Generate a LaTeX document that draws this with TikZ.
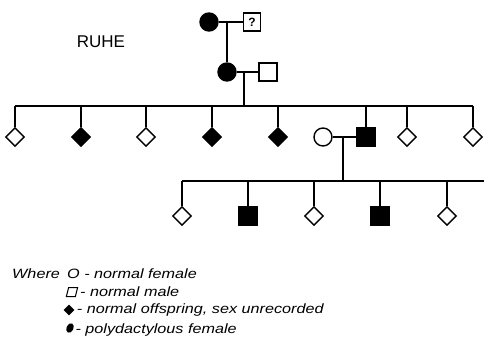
\documentclass[tikz,border=0pt]{standalone}
\usepackage{fontspec}
\setmainfont{Liberation Sans}
\newfontfamily\keyfont[FakeStretch=1.2]{Liberation Sans}
\usetikzlibrary{shapes.geometric}

\tikzset{
    female/.style={circle, draw, line width=1.4pt, minimum size=18pt, inner sep=0pt},
    male/.style={rectangle, draw, line width=1.4pt, minimum size=18pt, inner sep=0pt},
    unsexed/.style={diamond, draw, line width=1.4pt, minimum width=19pt, minimum height=19pt, inner sep=0pt},
    affected/.style={fill=black},
    kin/.style={line width=1.2pt},
    keytext/.style={anchor=west, inner sep=0pt, font=\keyfont\itshape\fontsize{13.5}{15}\selectfont}
}

\begin{document}
\begin{tikzpicture}[x=1pt, y=-1pt]
        \useasboundingbox (0,0) rectangle (484,338);

        \node[font=\fontsize{17}{19}\selectfont] (name) at (101,42) {RUHE};

        % grandparents
        \node[female, affected] (gm) at (209,22) {};
        \node[male, minimum width=17pt, minimum height=18pt, font=\rmfamily\bfseries\fontsize{12}{12}\selectfont] (gf) at (252,22) {?};
        \draw[kin] (gm) -- (gf);
        \coordinate (m1) at (227,22);

        % parents
        \node[female, affected] (mo) at (227,72) {};
        \node[male] (fa) at (268,72) {};
        \draw[kin] (mo) -- (fa);
        \draw[kin] (m1) -- (mo);
        \coordinate (m2) at (244,72);
        \coordinate (s2) at (244,106);
        \draw[kin] (m2) -- (s2);

        % second sibship
        \coordinate (s2l) at (15,106);
        \coordinate (s2r) at (473,106);
        \draw[kin] (s2l) -- (s2r);
        \node[unsexed] (c1) at (15,137) {};
        \node[unsexed, affected] (c2) at (81,137) {};
        \node[unsexed] (c3) at (146,137) {};
        \node[unsexed, affected] (c4) at (212,137) {};
        \node[unsexed, affected] (c5) at (278,137) {};
        \node[female] (wife) at (323,137) {};
        \node[male, affected] (c6) at (366,137) {};
        \node[unsexed] (c7) at (407,137) {};
        \node[unsexed] (c8) at (473,137) {};
        \draw[kin] (c1.north |- s2l) -- (c1.north);
        \draw[kin] (c2.north |- s2l) -- (c2.north);
        \draw[kin] (c3.north |- s2l) -- (c3.north);
        \draw[kin] (c4.north |- s2l) -- (c4.north);
        \draw[kin] (c5.north |- s2l) -- (c5.north);
        \draw[kin] (c6.north |- s2l) -- (c6.north);
        \draw[kin] (c7.north |- s2l) -- (c7.north);
        \draw[kin] (c8.north |- s2l) -- (c8.north);

        % third sibship
        \draw[kin] (wife) -- (c6);
        \coordinate (m3) at (343,137);
        \coordinate (s3) at (343,181);
        \draw[kin] (m3) -- (s3);
        \coordinate (s3l) at (182,181);
        \coordinate (s3r) at (484,181);
        \draw[kin] (s3l) -- (s3r);
        \node[unsexed] (d1) at (182,216) {};
        \node[male, affected] (d2) at (248,216) {};
        \node[unsexed] (d3) at (314,216) {};
        \node[male, affected] (d4) at (380,216) {};
        \node[unsexed] (d5) at (447,216) {};
        \draw[kin] (d1.north |- s3l) -- (d1.north);
        \draw[kin] (d2.north |- s3l) -- (d2.north);
        \draw[kin] (d3.north |- s3l) -- (d3.north);
        \draw[kin] (d4.north |- s3l) -- (d4.north);
        \draw[kin] (d5.north |- s3l) -- (d5.north);

        % key
        \node[keytext] (where) at (12,274) {Where};
        \node[keytext] (k1) at (67,274) {O - normal female};
        \node[draw, line width=1pt, minimum size=9pt, inner sep=0pt, xslant=0.25] (k2s) at (72,292) {};
        \node[keytext] (k2) at ([xshift=3pt]k2s.east) {- normal male};
        \node[diamond, fill=black, minimum width=11pt, minimum height=11pt, inner sep=0pt] (k3s) at (69,310) {};
        \node[keytext] (k3) at ([xshift=2pt]k3s.east) {- normal offspring, sex unrecorded};
        \node[ellipse, fill=black, minimum width=7pt, minimum height=10pt, inner sep=0pt, rotate=-25] (k4s) at (70,328) {};
        \node[keytext] (k4) at ([xshift=2pt]k4s.east) {- polydactylous female};
    \end{tikzpicture}
\end{document}
